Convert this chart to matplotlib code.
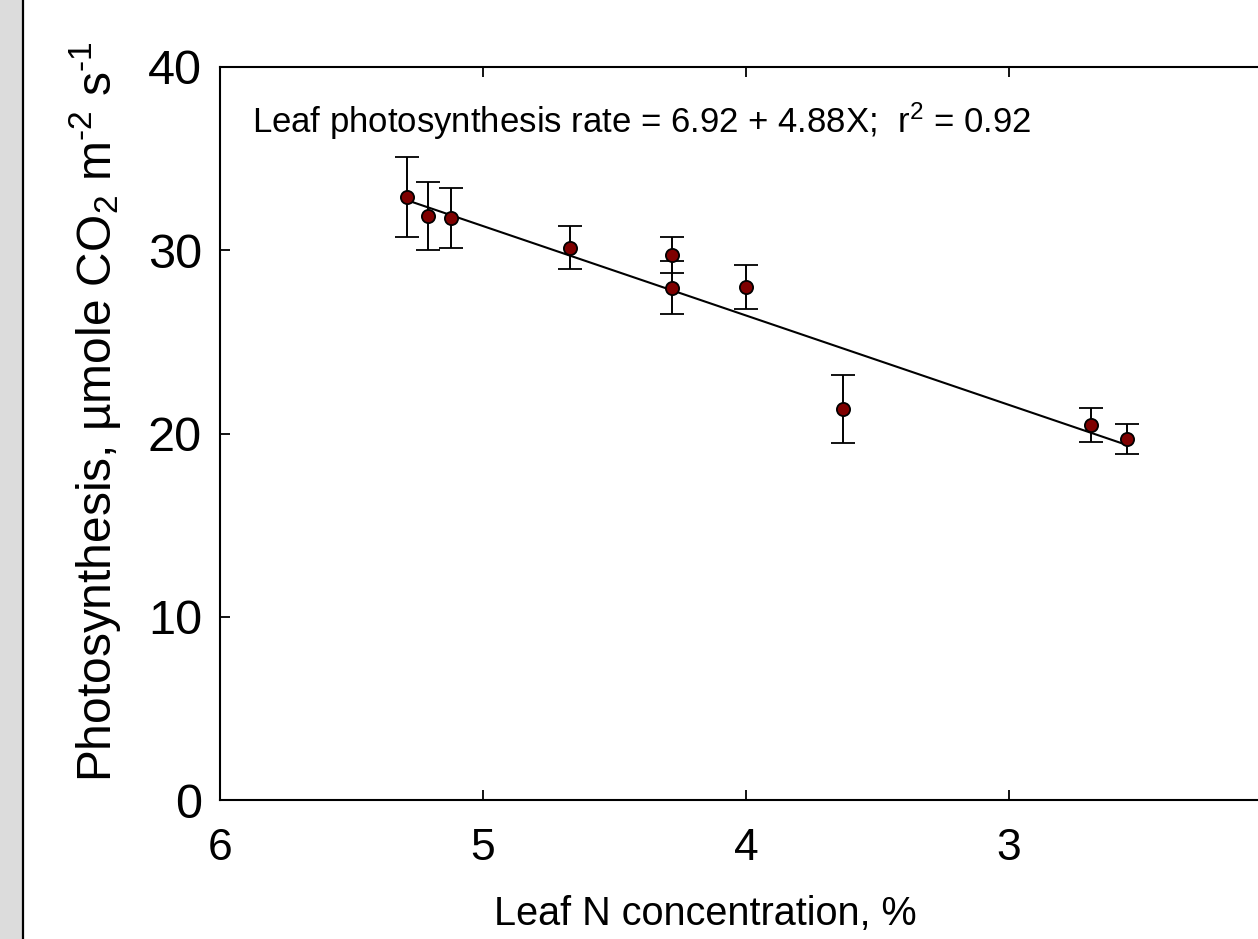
import numpy as np
import matplotlib
matplotlib.use("Agg")
import matplotlib.pyplot as plt
from matplotlib.patches import Rectangle
from matplotlib.lines import Line2D

# donnees
leaf_n = [5.29, 5.21, 5.12, 4.67, 4.28, 4.28, 4.00, 3.63, 2.69, 2.55]
photo = [32.9, 31.85, 31.75, 30.15, 29.75, 27.95, 28.0, 21.35, 20.45, 19.7]
erreur = [2.2, 1.85, 1.62, 1.2, 1.0, 1.45, 1.2, 1.85, 0.93, 0.82]

# regression: y = a + b*x
a, b = 6.92, 4.88

plt.rcParams['font.family'] = ['Liberation Sans', 'DejaVu Sans']
plt.rcParams['mathtext.fontset'] = 'custom'
plt.rcParams['mathtext.rm'] = 'Liberation Sans'
plt.rcParams['mathtext.it'] = 'Liberation Sans'

W, H = 1258, 939
fig = plt.figure(figsize=(W / 100, H / 100), dpi=100)

# bande grise a gauche
fig.patches.append(Rectangle((0, 0), 22 / W, 1, transform=fig.transFigure,
                             facecolor='#dcdcdc', edgecolor='none'))
fig.lines.append(Line2D([23 / W, 23 / W], [0, 1], transform=fig.transFigure,
                        color='black', lw=1.6))

ax = fig.add_axes([220 / W, (H - 800) / H, (1272 - 220) / W, (800 - 67) / H])
ax.set_xlim(6, 2)
ax.set_ylim(0, 40)

xs = np.array([max(leaf_n), min(leaf_n)])
ax.plot(xs, a + b * xs, color='black', lw=1.5, zorder=2)

ax.errorbar(leaf_n, photo, yerr=erreur, fmt='o', ms=9.5, mfc='#7f0000',
            mec='black', mew=1.3, ecolor='black', elinewidth=1.4,
            capsize=8.5, capthick=1.4, zorder=3)

ax.set_xticks([6, 5, 4, 3, 2])
ax.set_yticks([0, 10, 20, 30, 40])
ax.tick_params(direction='in', length=7, width=1.3, top=True, right=True)
ax.tick_params(axis='x', pad=20, labelsize=32)
ax.tick_params(axis='y', pad=13, labelsize=35)
for s in ax.spines.values():
    s.set_linewidth(1.5)

ax.text(252 / W, (H - 133) / H, 'Leaf photosynthesis rate = 6.92 + 4.88X;  r$^2$ = 0.92',
        transform=fig.transFigure, ha='left', va='baseline', fontsize=25)

fig.text(705 / W, (H - 925) / H, 'Leaf N concentration, %', ha='center',
         va='baseline', fontsize=28.5)
fig.text(95 / W, (H - 412) / H,
         'Photosynthesis, µmole CO$_2$ m$^{\u20102}$ s$^{\u20101}$',
         ha='center', va='center', rotation=90, fontsize=34.5)

fig.savefig('out.png', dpi=100)
